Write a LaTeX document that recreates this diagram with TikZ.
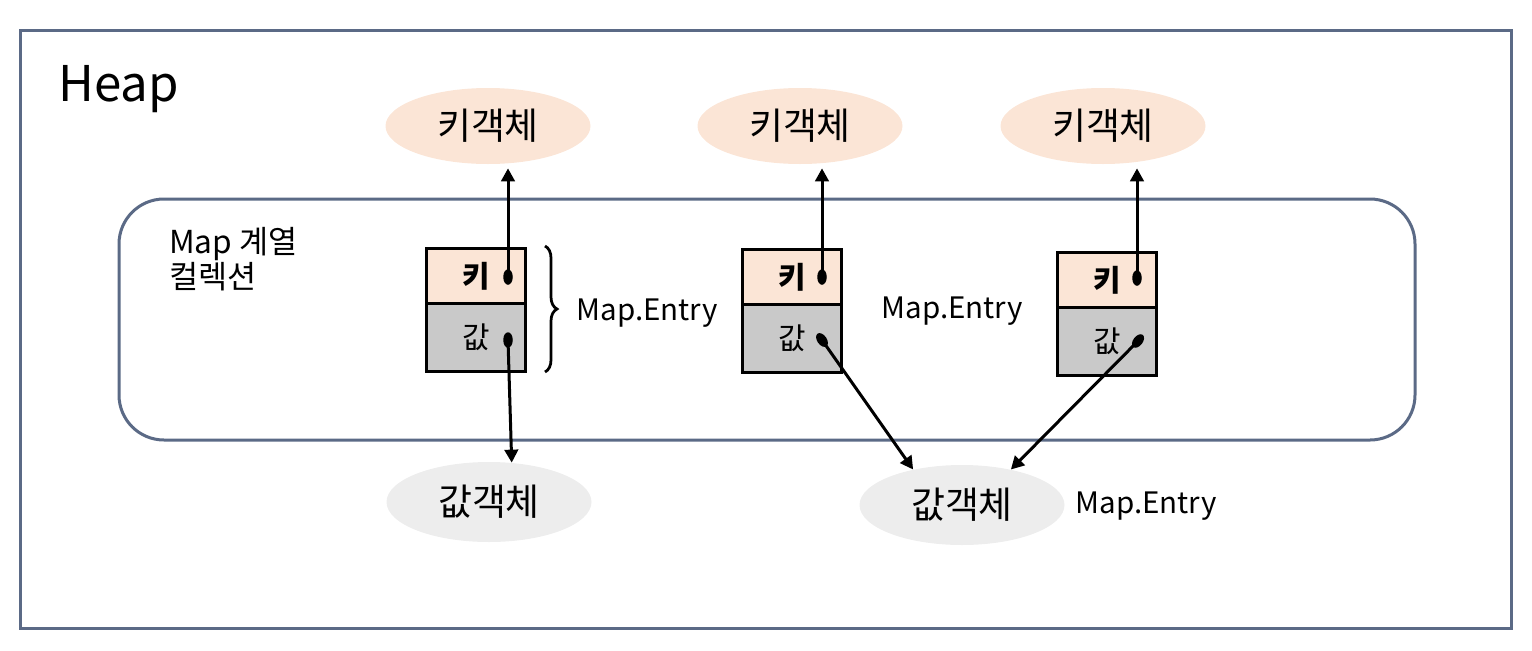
\documentclass[tikz,border=0pt]{standalone}
\usepackage{fontspec}
\setmainfont{Noto Sans CJK KR}
\usetikzlibrary{arrows.meta,shapes.geometric,decorations.pathreplacing}
\definecolor{heapline}{RGB}{91,106,134}
\definecolor{keyfill}{RGB}{251,229,214}
\definecolor{valfill}{RGB}{201,201,201}
\definecolor{objfill}{RGB}{237,237,237}
\tikzset{
	keyobj/.style={ellipse, fill=keyfill, minimum width=41mm, minimum height=15.2mm, inner sep=0pt, font=\fontsize{21}{24}\selectfont},
	valobj/.style={ellipse, fill=objfill, minimum width=41mm, minimum height=16mm, inner sep=0pt, font=\fontsize{21}{24}\selectfont},
	keycell/.style={rectangle, draw=black, line width=0.7mm, fill=keyfill, minimum width=19.8mm, minimum height=11mm, inner sep=0pt, outer sep=0pt, font=\fontsize{17}{20}\selectfont\bfseries},
	valcell/.style={rectangle, draw=black, line width=0.7mm, fill=valfill, minimum width=19.8mm, minimum height=13.6mm, inner sep=0pt, outer sep=0pt, font=\fontsize{17}{20}\selectfont},
	pin/.style={ellipse, fill=black, minimum width=1.9mm, minimum height=3.1mm, inner sep=0pt},
	ref/.style={line width=0.6mm, -{Triangle[length=2.6mm,width=2.7mm]}},
	entrylabel/.style={font=\fontsize{16.8}{20}\selectfont}
}

\begin{document}
\begin{tikzpicture}[x=0.2mm, y=-0.2mm]
	%%%%% START %%%%%
	\useasboundingbox (0,0) rectangle (1532,650);
	
	\draw[line width=0.6mm, color=heapline] (20,30) rectangle (1511,628);
	\node[anchor=west, font=\fontsize{28}{34}\selectfont] (heap) at (52,89) {Heap};
	
	\draw[line width=0.6mm, color=heapline, rounded corners=9mm] (119,199) rectangle (1415,440);
	\node[anchor=north west, align=left, font=\fontsize{18}{19}\selectfont] (coll) at (163,221) {Map 계열\\컬렉션};
	
	% key / value objects
	\node[keyobj] (ko1) at (488,126) {키객체};
	\node[keyobj] (ko2) at (800,126) {키객체};
	\node[keyobj] (ko3) at (1103,126) {키객체};
	\node[valobj] (vo1) at (489,502) {값객체};
	\node[valobj] (vo2) at (962,505) {값객체};
	
	% entries
	\node[keycell] (k1) at (476,276) {키};
	\node[valcell, anchor=north] (v1) at (k1.south) {값};
	\node[keycell] (k2) at (792,277) {키};
	\node[valcell, anchor=north] (v2) at (k2.south) {값};
	\node[keycell] (k3) at (1107,280) {키};
	\node[valcell, anchor=north] (v3) at (k3.south) {값};
	
	\node[pin] (pk1) at (508,277) {};
	\node[pin] (pv1) at (508,340) {};
	\node[pin] (pk2) at (822,277) {};
	\node[pin, rotate=35] (pv2) at (822,340) {};
	\node[pin] (pk3) at (1137,278) {};
	\node[pin, rotate=-38] (pv3) at (1138,341) {};
	
	\draw[ref] (pk1.center) -- ([yshift=-0.8mm]pk1 |- ko1.south);
	\draw[ref] (pk2.center) -- ([yshift=-0.8mm]pk2 |- ko2.south);
	\draw[ref] (pk3.center) -- ([yshift=-0.8mm]pk3 |- ko3.south);
	\draw[ref] (pv1.center) -- (vo1.60);
	\draw[ref] (pv2.center) -- (vo2.144);
	\draw[ref] (pv3.center) -- (vo2.36);
	
	\draw[decorate, decoration={brace, amplitude=2.4mm, aspect=0.5}, line width=0.55mm] (545,246) -- (545,372);
	
	\node[entrylabel] (e1) at (647,313) {Map.Entry};
	\node[entrylabel] (e2) at (952,311) {Map.Entry};
	\node[entrylabel] (e3) at (1146,506) {Map.Entry};
	%%%%% END %%%%%
\end{tikzpicture}
\end{document}
